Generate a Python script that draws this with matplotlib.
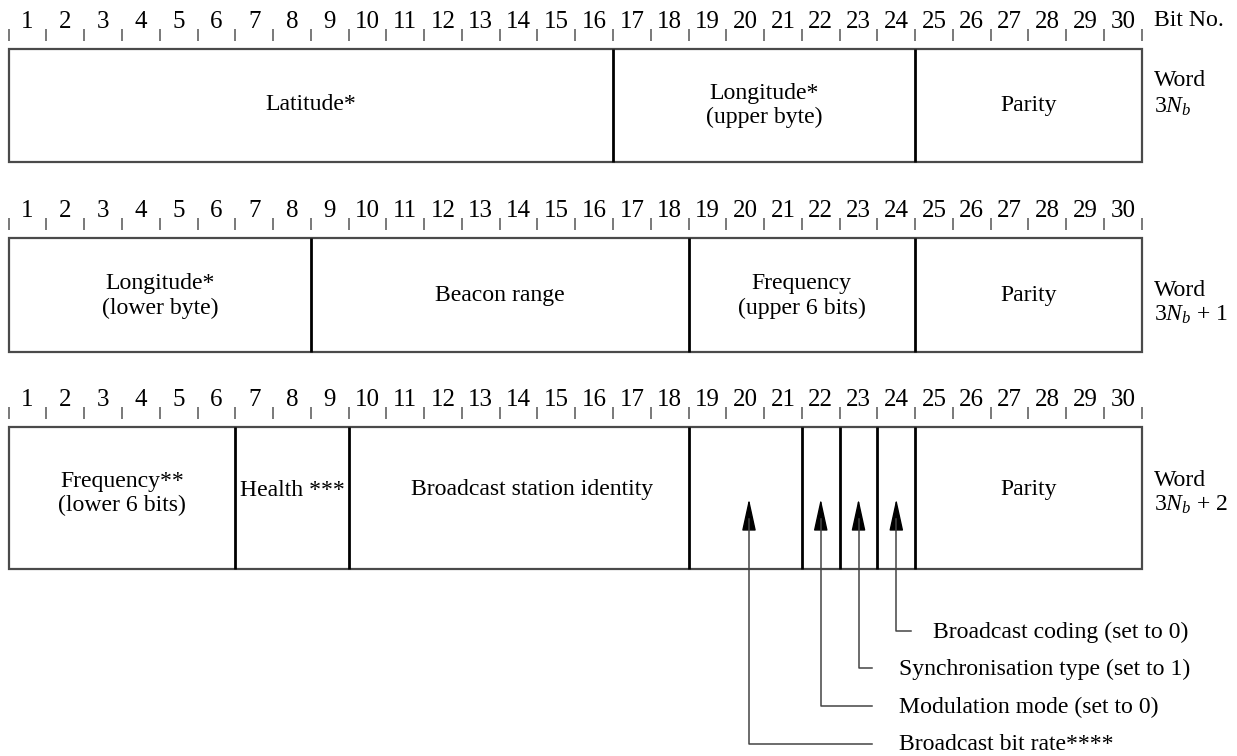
import matplotlib
matplotlib.use("Agg")
import matplotlib.pyplot as plt
from matplotlib.patches import Rectangle, FancyArrowPatch

plt.rcParams['font.family'] = ['Liberation Serif', 'DejaVu Serif']
plt.rcParams['mathtext.fontset'] = 'custom'
plt.rcParams['mathtext.rm'] = 'Liberation Serif'
plt.rcParams['mathtext.it'] = 'Liberation Serif:italic'

# ---- data ----
bit_numbers = list(range(1, 31))
bit_header = "Bit No."

w0_bounds = [0, 16, 24, 30]
w0_labels = ["Latitude*", "Longitude*\n(upper byte)", "Parity"]
w1_bounds = [0, 8, 18, 24, 30]
w1_labels = ["Longitude*\n(lower byte)", "Beacon range", "Frequency\n(upper 6 bits)", "Parity"]
w2_bounds = [0, 6, 9, 18, 21, 22, 23, 24, 30]
w2_labels = ["Frequency**\n(lower 6 bits)", "Health ***", "Broadcast station identity",
             "", "", "", "", "Parity"]
word_names = ["Word\n$3N_b$", "Word\n$3N_b$ + 1", "Word\n$3N_b$ + 2"]

flag_bits = [19.6, 21.5, 22.5, 23.5]
flag_labels = ["Broadcast bit rate****", "Modulation mode (set to 0)",
               "Synchronisation type (set to 1)", "Broadcast coding (set to 0)"]

# ---- layout (pixel-based vertical positions) ----
W, H = 1237, 756
x0px, bitpx = 8.7, 37.77
row_tops = [49, 238, 427]
row_bots = [162, 351.7, 569.3]
label_y = [105, 295, 490]
two_line_y = [(93, 117), (284, 308), (481, 505)]
word_y = [(80, 107), (290, 315), (480, 505)]
leader_y = [744, 706, 668, 631]
leader_end = [871.7, 871.7, 871.7, 910.7]
text_x = [899, 899, 899, 933]

fig = plt.figure(figsize=(W / 100, H / 100), dpi=100)
ax = fig.add_axes([0, 0, 1, 1])
ax.set_xlim(-x0px / bitpx, (W - x0px) / bitpx)
ax.set_ylim(H, 0)
ax.axis('off')

def px2bit(p):
    return (p - x0px) / bitpx

fs_lab = 17.1
fs_num = 18.0
box_col = '#4a4a4a'

all_bounds = [w0_bounds, w1_bounds, w2_bounds]
all_labels = [w0_labels, w1_labels, w2_labels]

for r in range(3):
    top, bot = row_tops[r], row_bots[r]
    # ticks and numbers
    for k in range(31):
        ax.plot([k, k], [top - 20, top - 8], color='#555555', lw=1.1, solid_capstyle='butt')
    for i, n in enumerate(bit_numbers):
        ax.text(i + 0.5, top - 27, str(n), ha='center', va='center', fontsize=fs_num)
    # outer box
    ax.add_patch(Rectangle((0, top), 30, bot - top, fill=False, ec=box_col, lw=1.6))
    # dividers
    b = all_bounds[r]
    for d in b[1:-1]:
        ax.plot([d, d], [top, bot], color='black', lw=2.0, solid_capstyle='butt')
    # labels
    for j, lab in enumerate(all_labels[r]):
        if not lab:
            continue
        cx = (b[j] + b[j + 1]) / 2
        if "\n" in lab:
            l1, l2 = lab.split("\n")
            ax.text(cx, two_line_y[r][0], l1, ha='center', va='center', fontsize=fs_lab)
            ax.text(cx, two_line_y[r][1], l2, ha='center', va='center', fontsize=fs_lab)
        elif lab.startswith("Health"):
            ax.text(px2bit(240), label_y[r], lab, ha='left', va='center', fontsize=fs_lab)
        elif lab.startswith("Broadcast station"):
            ax.text(px2bit(411), label_y[r], lab, ha='left', va='center', fontsize=fs_lab)
        else:
            ax.text(cx, label_y[r], lab, ha='center', va='center', fontsize=fs_lab)
    # word label
    w1, w2 = word_names[r].split("\n")
    ax.text(px2bit(1154), word_y[r][0], w1, ha='left', va='center', fontsize=fs_lab)
    ax.text(px2bit(1154), word_y[r][1], w2, ha='left', va='center', fontsize=fs_lab)

ax.text(px2bit(1154), 20, bit_header, ha='left', va='center', fontsize=fs_lab)

# arrows and leaders
tip_y, head_base = 499, 519
for bx, ly, le, tx, lab in zip(flag_bits, leader_y, leader_end, text_x, flag_labels):
    ax.plot([bx, bx, px2bit(le)], [head_base, ly, ly], color='#444444', lw=1.1)
    ax.add_patch(FancyArrowPatch((bx, head_base + 1), (bx, tip_y),
                                 arrowstyle='-|>,head_length=1.05,head_width=0.23',
                                 mutation_scale=19, color='black', lw=1.0,
                                 shrinkA=0, shrinkB=0))
    ax.text(px2bit(tx), ly + 1, lab, ha='left', va='center', fontsize=fs_lab)

fig.savefig("out.png", dpi=100, facecolor='white')
